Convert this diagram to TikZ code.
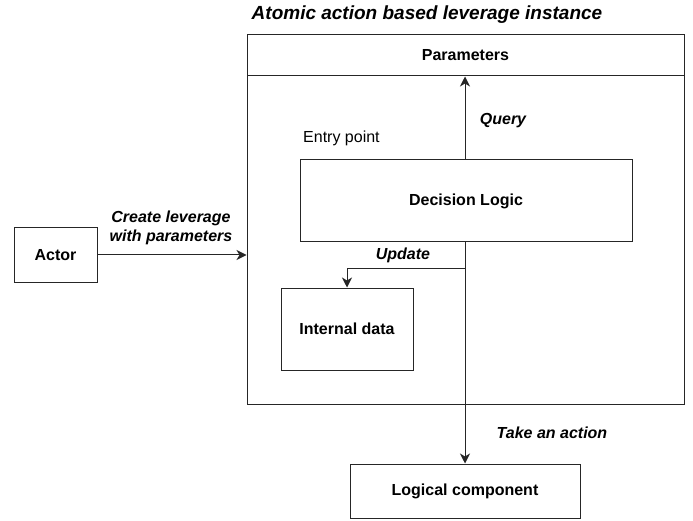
\documentclass[tikz,border=0pt]{standalone}
\usepackage{fontspec}
\setmainfont{Liberation Sans}
\usetikzlibrary{arrows.meta}
\begin{document}
\begin{tikzpicture}[x=1pt,y=-1pt,
  every node/.style={font=\fontsize{16}{19}\selectfont},
  box/.style={draw=black!85,line width=1pt,inner sep=0pt,align=center,font=\fontsize{16}{19}\selectfont\bfseries},
  lbl/.style={inner sep=0pt,font=\fontsize{16}{19}\selectfont\bfseries\itshape,align=center},
  conn/.style={draw=black!85,line width=1pt},
  arr/.style={conn,-{Stealth[length=10pt,width=10pt,inset=3pt]}}]
\useasboundingbox (0,0) rectangle (693,521);
% title
\node[lbl,font=\fontsize{19}{22}\selectfont\bfseries\itshape] (title) at (427,15) {Atomic action based leverage instance};
% outer instance box
\node[box,minimum width=437pt,minimum height=369pt] (outer) at (465.5,219.5) {};
\node[box,minimum width=437pt,minimum height=41pt] (par) at (465.5,55.5) {Parameters};
% inner boxes
\node[box,minimum width=332pt,minimum height=82pt] (dl) at (466,201) {Decision Logic};
\node[inner sep=0pt,anchor=west] (entry) at (303,138) {Entry point};
\node[box,minimum width=132pt,minimum height=82pt] (id) at (347,329) {Internal data};
% outside boxes
\node[box,minimum width=83pt,minimum height=54pt] (actor) at (55.5,255) {Actor};
\node[box,minimum width=230pt,minimum height=54pt] (lc) at (465,491) {Logical component};
% labels
\node[lbl] (lcreate) at (171,228) {Create leverage\\with parameters};
\node[lbl] (lquery) at (503,121) {Query};
\node[lbl] (lupdate) at (403,255) {Update};
\node[lbl] (laction) at (552,433) {Take an action};
% connectors
\draw[arr] (actor.east) -- (outer.west |- actor.east);
\draw[arr] (dl.north -| lc.north) -- (par.south -| lc.north);
\draw[arr] (dl.south -| lc.north) -- (lc.north);
\coordinate (upd) at (465,269);
\draw[arr] (upd) -| (id.north);
\end{tikzpicture}
\end{document}
